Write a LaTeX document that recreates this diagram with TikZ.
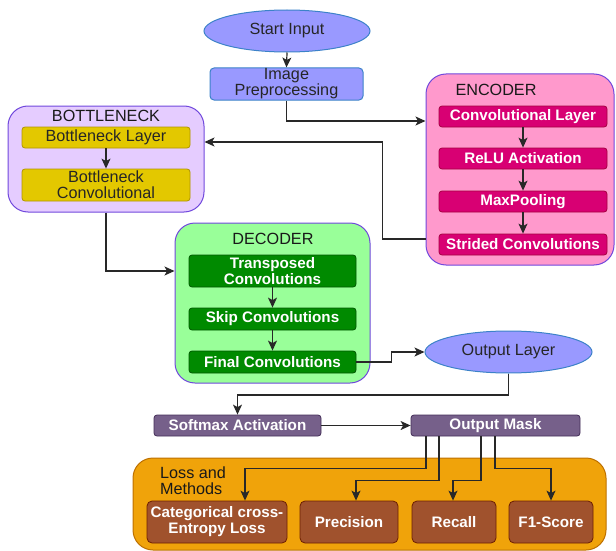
\documentclass[tikz,border=0pt]{standalone}
\usepackage{fontspec}
\setmainfont{Liberation Sans}
\usetikzlibrary{shapes.geometric,arrows.meta,calc}
\definecolor{ellfill}{RGB}{153,153,255}
\definecolor{ellline}{RGB}{60,130,200}
\definecolor{cline}{RGB}{112,72,220}
\definecolor{encfill}{RGB}{255,153,204}
\definecolor{encin}{RGB}{216,0,115}
\definecolor{encinl}{RGB}{165,0,64}
\definecolor{botfill}{RGB}{229,204,255}
\definecolor{botin}{RGB}{227,200,0}
\definecolor{botinl}{RGB}{176,149,0}
\definecolor{decfill}{RGB}{153,255,153}
\definecolor{decin}{RGB}{0,138,0}
\definecolor{decinl}{RGB}{0,87,0}
\definecolor{purp}{RGB}{118,96,138}
\definecolor{purpl}{RGB}{67,45,87}
\definecolor{orfill}{RGB}{240,163,10}
\definecolor{orline}{RGB}{189,112,0}
\definecolor{brown}{RGB}{160,82,45}
\definecolor{brownl}{RGB}{109,31,0}
\definecolor{arrc}{RGB}{40,40,40}
\newcommand\rfont{\fontsize{16.2}{16}\selectfont}
\newcommand\bfont{\fontsize{15.2}{16}\selectfont\bfseries}
\tikzset{
  container/.style={draw=cline, line width=1pt, rounded corners=20pt, inner sep=0pt},
  ellbox/.style={ellipse, draw=ellline, fill=ellfill, line width=1pt, inner sep=0pt, font=\rfont, text=black!85},
  inbox/.style={rounded corners=3pt, line width=0.8pt, inner sep=0pt, text=white, font=\bfont, align=center},
  title/.style={font=\rfont, text=black!90, inner sep=0pt},
  arr/.style={draw=arrc, line width=1.2pt, -{Stealth[length=10pt,width=9pt,inset=2.5pt]}},
  conn/.style={draw=arrc, line width=1.2pt}
}
\begin{document}
\begin{tikzpicture}[x=1pt,y=-1pt]
\useasboundingbox (0,0) rectangle (616,551);
% Start and preprocessing
\node[ellbox, minimum width=166pt, minimum height=42pt] (start) at (287,31) {Start Input};
\node[draw=ellline, fill=ellfill, line width=1pt, rounded corners=4pt, inner sep=0pt,
      minimum width=153pt, minimum height=32pt, font=\rfont, align=center, text=black!85] (prep) at (286.5,84) {Image\\Preprocessing};
% Encoder
\node[container, fill=encfill, minimum width=188pt, minimum height=191pt] (enc) at (520,169.5) {};
\node[title] (enct) at (496,90) {ENCODER};
\tikzset{encbox/.style={inbox, fill=encin, draw=encinl, minimum width=168pt, minimum height=21pt}}
\node[encbox] (conv) at (523,116.5) {Convolutional Layer};
\node[encbox] (relu) at (523,158.5) {ReLU Activation};
\node[encbox] (maxp) at (523,201.5) {MaxPooling};
\node[encbox] (strd) at (523,244.5) {Strided Convolutions};
% Bottleneck
\node[container, fill=botfill, minimum width=196pt, minimum height=106pt] (bott) at (106,159) {};
\node[title] (bottt) at (106,116) {BOTTLENECK};
\tikzset{botbox/.style={inbox, fill=botin, draw=botinl, minimum width=168pt, text=black!85, font=\rfont}}
\node[botbox, minimum height=21pt] (bl) at (106,137.5) {Bottleneck Layer};
\node[botbox, minimum height=32pt] (bc) at (106,185) {Bottleneck\\Convolutional};
% Decoder
\node[container, fill=decfill, minimum width=195pt, minimum height=160pt] (dec) at (272.5,303) {};
\node[title] (dect) at (273,239) {DECODER};
\tikzset{decbox/.style={inbox, fill=decin, draw=decinl, minimum width=167pt}}
\node[decbox, minimum height=32pt] (tc) at (272.5,271) {Transposed\\Convolutions};
\node[decbox, minimum height=22pt] (sc) at (272.5,319) {Skip Convolutions};
\node[decbox, minimum height=22pt] (fc) at (272.5,362) {Final Convolutions};
% Output
\node[ellbox, minimum width=167pt, minimum height=42pt] (outl) at (508.5,352) {Output Layer};
\tikzset{purpbox/.style={inbox, fill=purp, draw=purpl, minimum height=21pt}}
\node[purpbox, minimum width=167pt] (soft) at (237.5,425.5) {Softmax Activation};
\node[purpbox, minimum width=169pt] (mask) at (495.5,425.5) {Output Mask};
% Loss
\node[draw=orline, fill=orfill, line width=1pt, rounded corners=20pt, inner sep=0pt,
      minimum width=473pt, minimum height=92pt] (loss) at (369.5,504) {};
\node[font=\rfont, align=left, anchor=west, inner sep=0pt, text=black!90] (losst) at (160,481) {Loss and\\Methods};
\tikzset{brbox/.style={inbox, fill=brown, draw=brownl, minimum height=42pt, rounded corners=5pt}}
\node[brbox, minimum width=140pt] (cat) at (217,522) {Categorical cross-\\Entropy Loss};
\node[brbox, minimum width=98pt] (prec) at (349,522) {Precision};
\node[brbox, minimum width=84pt] (rec) at (454,522) {Recall};
\node[brbox, minimum width=84pt] (f1) at (551,522) {F1-Score};
% Connectors
\draw[arr] (start.south) -- (prep.north);
\draw[arr] (prep.south) |- ([yshift=48.5pt]enc.west);
\draw[arr] (conv.south) -- (relu.north);
\draw[arr] (relu.south) -- (maxp.north);
\draw[arr] (maxp.south) -- (strd.north);
\draw[arr] ([yshift=-69.5pt]enc.west) -- ++(-43,0) |- ([yshift=17pt]bott.east);
\draw[arr] (bl.south) -- (bc.north);
\draw[arr] (bott.south) |- ([yshift=32pt]dec.west);
\draw[arr] (tc.south) -- (sc.north);
\draw[arr] (sc.south) -- (fc.north);
\draw[arr] (fc.east) -- ++(35,0) |- (outl.west);
\draw[arr] (outl.south) -- ++(0,21.5) -| (soft.north);
\draw[arr] (soft.east) -- (mask.west);
\draw[arr] ([xshift=-69.5pt]mask.south) -- ++(0,32) -| ([xshift=28pt]cat.north);
\draw[arr] ([xshift=-56.5pt]mask.south) -- ++(0,44) -| ([xshift=7pt]prec.north);
\draw[arr] ([xshift=-14.5pt]mask.south) -- ++(0,44) -| ([xshift=-1pt]rec.north);
\draw[arr] ([xshift=-0.5pt]mask.south) -- ++(0,32) -| (f1.north);
\end{tikzpicture}
\end{document}
